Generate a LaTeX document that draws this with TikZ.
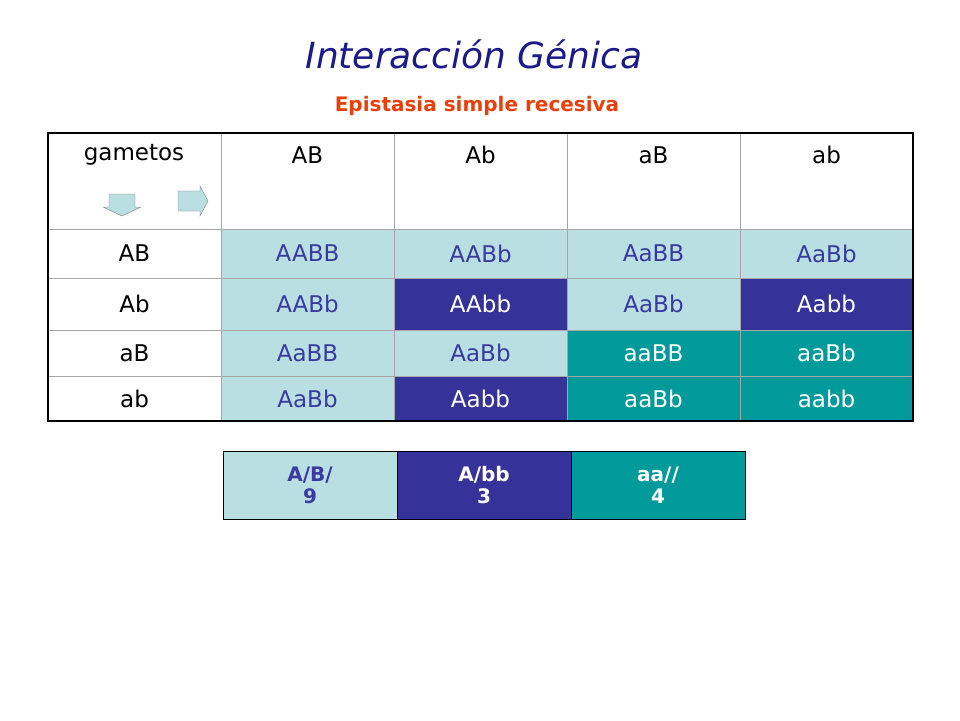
\documentclass[tikz,border=0pt]{standalone}
\usepackage{fontspec}
\setmainfont{DejaVu Sans}
\definecolor{celllight}{HTML}{B9DFE2}
\definecolor{celldark}{HTML}{35339A}
\definecolor{cellteal}{HTML}{009A9A}
\definecolor{txtblue}{HTML}{3A3AA0}
\definecolor{titleblue}{HTML}{1A1A8A}
\definecolor{subred}{HTML}{E8400A}
\begin{document}
\begin{tikzpicture}[x=1pt,y=-1pt,
    lt/.style={fill=celllight,draw=gray!70},
    dk/.style={fill=celldark,draw=gray!70},
    tl/.style={fill=cellteal,draw=gray!70},
    wt/.style={fill=white,draw=gray!70},
    gtxt/.style={font=\fontsize{23}{26}\selectfont},
    stxt/.style={font=\fontsize{20}{22}\selectfont\bfseries,align=center}]
  \useasboundingbox (0,0) rectangle (960,720);
  \node[font=\fontsize{36}{40}\selectfont\itshape,text=titleblue] (title) at (474,54) {Interacción Génica};
  \node[font=\fontsize{20}{24}\selectfont\bfseries,text=subred] (sub) at (477,106) {Epistasia simple recesiva};
  % header row and left column
  \foreach \xa/\xb in {48/221,221/394,394/567,567/740,740/913}
    \draw[wt] (\xa,133) rectangle (\xb,229);
  \foreach \ya/\yb in {229/278,278/330,330/376,376/421}
    \draw[wt] (48,\ya) rectangle (221,\yb);
  % genotype cells
  \foreach \ya/\yb/\row in {229/278/{lt/AABB,lt/AABb,lt/AaBB,lt/AaBb},
      278/330/{lt/AABb,dk/AAbb,lt/AaBb,dk/Aabb},
      330/376/{lt/AaBB,lt/AaBb,tl/aaBB,tl/aaBb},
      376/421/{lt/AaBb,dk/Aabb,tl/aaBb,tl/aabb}} {
    \foreach \s/\t [count=\c] in \row {
      \pgfmathsetmacro\xa{48+173*\c}
      \draw[\s] (\xa,\ya) rectangle ++(173,\yb-\ya);
      \ifnum\pdfstrcmp{\s}{lt}=0
        \node[gtxt,text=txtblue] (g\ya\c) at ({\xa+86.5},{(\ya+\yb)/2}) {\t};
      \else
        \node[gtxt,text=white] (g\ya\c) at ({\xa+86.5},{(\ya+\yb)/2}) {\t};
      \fi
    }
  }
  \draw[line width=2pt] (48,133) rectangle (913,421);
  % header texts
  \node[gtxt] (hg) at (134,155) {gametos};
  \foreach \t/\xm/\ym [count=\c] in {AB/307.5/253.5,Ab/480.5/304,aB/653.5/353,ab/826.5/398.5} {
    \node[gtxt] (h\c) at (\xm,155) {\t};
    \node[gtxt] (r\c) at (134.5,\ym) {\t};
  }
  % arrows
  \draw[fill=celllight,draw=gray] (109,194) -- (135,194) -- (135,207) -- (141,207) -- (122,216) -- (103,207) -- (109,207) -- cycle;
  \draw[fill=celllight,draw=gray] (178,191) -- (200,191) -- (200,186) -- (208,201) -- (200,216) -- (200,211) -- (178,211) -- cycle;
  % summary
  \draw[lt,draw=black] (223,451) rectangle (397,519);
  \draw[dk,draw=black] (397,451) rectangle (571,519);
  \draw[tl,draw=black] (571,451) rectangle (745,519);
  \node[stxt,text=txtblue] (s1) at (310,485) {A/B/\\9};
  \node[stxt,text=white] (s2) at (484,485) {A/bb\\3};
  \node[stxt,text=white] (s3) at (658,485) {aa//\\4};
\end{tikzpicture}
\end{document}
